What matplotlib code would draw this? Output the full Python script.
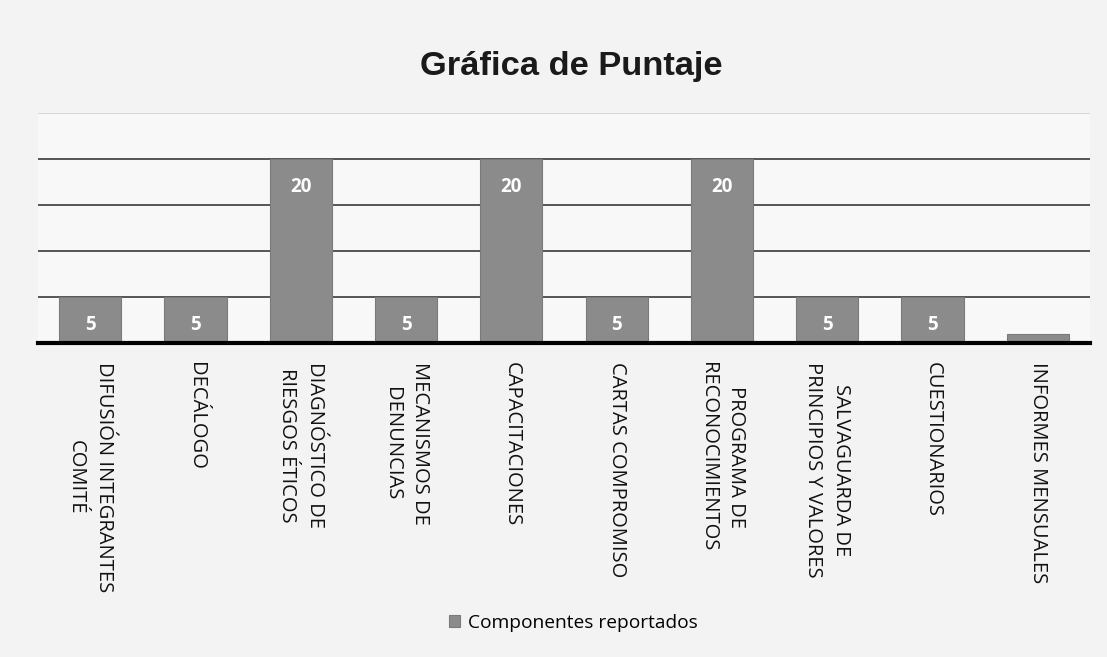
import matplotlib
matplotlib.use('Agg')
import matplotlib.pyplot as plt

# ====== DATOS ==========
categorias = [
    "DIFUSIÓN INTEGRANTES\nCOMITÉ",
    "DECÁLOGO",
    "DIAGNÓSTICO DE\nRIESGOS ÉTICOS",
    "MECANISMOS DE\nDENUNCIAS",
    "CAPACITACIONES",
    "CARTAS COMPROMISO",
    "PROGRAMA DE\nRECONOCIMIENTOS",
    "SALVAGUARDA DE\nPRINCIPIOS Y VALORES",
    "CUESTIONARIOS",
    "INFORMES MENSUALES",
]
puntaje = [5, 5, 20, 5, 20, 5, 20, 5, 5, 1]
etiquetas = ["5", "5", "20", "5", "20", "5", "20", "5", "5", ""]
serie = "Componentes reportados"

plt.rcParams['font.family'] = ['Open Sans', 'DejaVu Sans']

fig = plt.figure(figsize=(11.07, 6.57), dpi=100)
fig.patch.set_facecolor('#f3f3f3')
ax = fig.add_axes([0.034, 0.478, 0.951, 0.35])
ax.set_facecolor('#f8f8f8')

x = list(range(len(categorias)))
barras = ax.bar(x, puntaje, width=0.59, color='#8b8b8b', edgecolor='#7a7a7a',
                linewidth=0.8, label=serie, zorder=3)

# etiquetas dentro de la barra, cerca del extremo
for xi, v, txt in zip(x, puntaje, etiquetas):
    if txt:
        ax.annotate(txt, (xi, v), xytext=(0, -20), textcoords='offset points',
                    ha='center', va='center', color='white', fontsize=13.5,
                    fontweight='bold', zorder=4)

ax.set_ylim(0, 25)
ax.set_xlim(-0.5, len(categorias) - 0.5)
ax.set_yticks([5, 10, 15, 20, 25])
ax.yaxis.grid(True, color='#3a3a3a', linewidth=1.2, zorder=0)
# la linea superior casi no se ve en el original
ax.get_ygridlines()[-1].set_color('#d0d0d0')
ax.tick_params(axis='y', left=False, labelleft=False)
ax.tick_params(axis='x', length=0, pad=14)
for s in ['top', 'right', 'left']:
    ax.spines[s].set_visible(False)
ax.spines['bottom'].set_linewidth(3)
ax.spines['bottom'].set_color('black')
ax.spines['bottom'].set_zorder(5)

ax.set_xticks(x)
ax.set_xticklabels(categorias, rotation=270, fontsize=14.5, va='top',
                   ha='center', multialignment='center', linespacing=1.55,
                   color='#111111')

fig.text(571 / 1107, 1 - 67 / 657, "Gráfica de Puntaje", ha='center',
         va='center', fontsize=24.8, fontweight='bold', color='#1a1a1a',
         family='Liberation Sans')

fig.legend(handles=[barras], labels=[serie], loc='center',
           bbox_to_anchor=(573 / 1107, 1 - 623 / 657), frameon=False,
           fontsize=13.8, handlelength=0.6, handleheight=0.6, handletextpad=0.4)

fig.savefig("out.png", dpi=100, facecolor=fig.get_facecolor())
